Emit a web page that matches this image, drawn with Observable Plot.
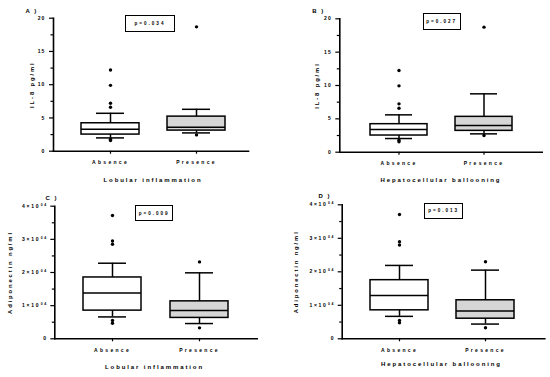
<!DOCTYPE html>
<html>
<head>
<meta charset="utf-8">
<script src="https://cdn.jsdelivr.net/npm/d3@7"></script>
<script src="https://cdn.jsdelivr.net/npm/@observablehq/plot@0.6"></script>
<style>
  html, body { margin: 0; padding: 0; background: #fff; }
  #wrap { position: relative; width: 550px; height: 377px; overflow: hidden; background: #fff;
          font-family: "Liberation Sans", Arial, sans-serif; font-weight: bold; }
  .panel { position: absolute; }
  .panel svg { overflow: visible; }
  .panel svg text { font-family: "Liberation Sans", Arial, sans-serif; font-weight: bold; }
  g[aria-label="y-axis tick label"] text { letter-spacing: 1.1px; }
  g[aria-label="x-axis tick label"] text { letter-spacing: 2.3px; }
  .pbox { position: absolute; box-sizing: border-box; border: 1.6px solid #000; background: #fff;
          display: flex; align-items: center; justify-content: center;
          font-size: 4.6px; letter-spacing: 2px; color: #000; }
</style>
</head>
<body>
<div id="wrap"></div>
<script>
// ---------- data ----------
const groups = ["Absence", "Presence"];
// box statistics per group: [lower whisker, Q1, median, Q3, upper whisker]
const il8LobularAbsence  = [2.0, 2.5, 3.3, 4.2, 5.7];
const il8LobularPresence = [2.75, 3.1, 3.6, 5.2, 6.3];
const il8LobularAbsenceOutliers  = [12.2, 9.9, 7.2, 6.6, 1.8, 1.6];
const il8LobularPresenceOutliers = [18.7, 2.45];

const il8BalloonAbsence  = [2.05, 2.5, 3.4, 4.2, 5.6];
const il8BalloonPresence = [2.75, 3.2, 4.0, 5.3, 8.75];
const il8BalloonAbsenceOutliers  = [12.25, 9.95, 7.25, 6.6, 1.8, 1.55];
const il8BalloonPresenceOutliers = [18.75, 2.5];

const adipoLobularAbsence  = [6600, 8500, 13800, 18500, 22800];
const adipoLobularPresence = [4600, 6300, 8500, 11300, 19900];
const adipoLobularAbsenceOutliers  = [37200, 29500, 28500, 5500, 4700];
const adipoLobularPresenceOutliers = [23200, 3300];

const adipoBalloonAbsence  = [6700, 8500, 12900, 17500, 21900];
const adipoBalloonPresence = [4400, 6000, 8300, 11500, 20500];
const adipoBalloonAbsenceOutliers  = [37100, 29000, 28000, 5500, 4800];
const adipoBalloonPresenceOutliers = [23000, 3300];

const il8Ticks = [0, 5, 10, 15, 20];
const il8MinorTicks = [2.5, 7.5, 12.5, 17.5];
const adipoTicks = [0, 10000, 20000, 30000, 40000];
const adipoMinorTicks = [5000, 15000, 25000, 35000];

const pValues = ["p=0.034", "p=0.027", "p=0.009", "p=0.013"];
const panelLetters = ["A )", "B )", "C )", "D )"];
const yTitles = ["IL-8 pg/ml", "IL-8 pg/ml", "Adiponectin ng/ml", "Adiponectin ng/ml"];
const xTitles = ["Lobular inflammation", "Hepatocellular ballooning", "Lobular inflammation", "Hepatocellular ballooning"];
const groupFills = ["#ffffff", "#d6d6d6"];
const adipoExponent = "04";

// ---------- helpers ----------
function rowsFrom(a, p) {
  return groups.map((g, i) => {
    const s = i === 0 ? a : p;
    return { group: g, low: s[0], q1: s[1], median: s[2], q3: s[3], high: s[4], fill: groupFills[i] };
  });
}
function outlierRows(a, p) {
  return [...a.map(v => ({ group: groups[0], value: v })), ...p.map(v => ({ group: groups[1], value: v }))];
}
const supFmt = d => d === 0 ? "0" : `${d / 10000}×10^${adipoExponent}`;

function panel(cfg) {
  const rows = rowsFrom(cfg.a, cfg.p);
  const outs = outlierRows(cfg.ao, cfg.po);
  const sw = 1.5;
  const chart = Plot.plot({
    width: cfg.width, height: cfg.height,
    marginLeft: cfg.ml, marginRight: cfg.mr, marginTop: cfg.mt, marginBottom: cfg.mb,
    style: { background: "transparent", fontFamily: "Liberation Sans, Arial, sans-serif" },
    x: { type: "band", domain: groups, paddingInner: cfg.pin, paddingOuter: cfg.pout, align: cfg.align, label: null },
    y: { domain: cfg.yDomain, label: null },
    marks: [
      Plot.axisY({ ticks: cfg.minor, tickSize: 2.5, tickFormat: () => "", strokeWidth: 1.2 }),
      Plot.axisY({ ticks: cfg.ticks, tickSize: 4, tickPadding: cfg.tickPad, tickFormat: cfg.fmt, fontSize: 5, strokeWidth: 1.2 }),
      Plot.axisX({ tickSize: 3, tickPadding: 6.5, fontSize: 5, strokeWidth: 1.2, label: null }),
      Plot.ruleX(rows, { x: "group", y1: "low", y2: "high", strokeWidth: sw }),
      Plot.barY(rows, { x: "group", y1: "q1", y2: "q3", fill: "fill", stroke: "#000", strokeWidth: sw }),
      Plot.tickY(rows, { x: "group", y: "median", strokeWidth: sw }),
      Plot.tickY(rows, { x: "group", y: "low", strokeWidth: sw, insetLeft: 15, insetRight: 15 }),
      Plot.tickY(rows, { x: "group", y: "high", strokeWidth: sw, insetLeft: 15, insetRight: 15 }),
      Plot.dot(outs, { x: "group", y: "value", r: 1.7, fill: "#000", stroke: "none" }),
      Plot.frame({ anchor: "left", strokeWidth: 1.6 }),
      Plot.frame({ anchor: "bottom", strokeWidth: 1.6 }),
      Plot.text([cfg.yTitle], { frameAnchor: "left", textAnchor: "middle", dx: cfg.yTitleDx, rotate: -90, fontSize: 5.8 }),
      Plot.text([cfg.xTitle], { frameAnchor: "bottom", textAnchor: "middle", dx: cfg.xTitleDx, dy: cfg.xTitleDy, fontSize: 6 }),
      Plot.text([cfg.letter], { frameAnchor: "top-left", textAnchor: "start", dx: cfg.letterDx, dy: cfg.letterDy, fontSize: 6 })
    ]
  });
  // letter spacing of titles (reference uses widely tracked bold text)
  chart.querySelectorAll("text").forEach(t => {
    const s = t.textContent;
    if (s === cfg.xTitle || s === cfg.yTitle) t.style.letterSpacing = "1.9px";
    else if (s === cfg.letter) t.style.letterSpacing = "1.5px";
  });
  // superscript exponent on tick labels
  chart.querySelectorAll('g[aria-label="y-axis tick label"] text').forEach(t => {
    const s = t.textContent;
    if (cfg.wideTicks) t.style.letterSpacing = "1.7px";
    if (s.includes("^")) {
      const [base, exp] = s.split("^");
      t.textContent = "";
      const b = document.createElementNS("http://www.w3.org/2000/svg", "tspan");
      b.textContent = base;
      const e = document.createElementNS("http://www.w3.org/2000/svg", "tspan");
      e.textContent = exp;
      e.setAttribute("font-size", "3.4");
      e.setAttribute("dy", "-2.2");
      e.setAttribute("dx", "0.5");
      t.appendChild(b); t.appendChild(e);
    }
  });
  const div = document.createElement("div");
  div.className = "panel";
  div.style.left = cfg.left + "px";
  div.style.top = cfg.top + "px";
  div.appendChild(chart);
  document.getElementById("wrap").appendChild(div);

  const pb = document.createElement("div");
  pb.className = "pbox";
  pb.textContent = cfg.pText;
  Object.assign(pb.style, {
    left: (cfg.left + cfg.pbox[0]) + "px", top: (cfg.top + cfg.pbox[1]) + "px",
    width: cfg.pbox[2] + "px", height: cfg.pbox[3] + "px"
  });
  document.getElementById("wrap").appendChild(pb);
}

panel({
  left: 0, top: 0, width: 275, height: 190, ml: 53, mr: 27, mt: 17.7, mb: 39.3,
  pin: 0.331, pout: 0.29, align: 0.54, tickPad: 4,
  a: il8LobularAbsence, p: il8LobularPresence, ao: il8LobularAbsenceOutliers, po: il8LobularPresenceOutliers,
  yDomain: [0, 20], ticks: il8Ticks, minor: il8MinorTicks, fmt: d => d,
  yTitle: yTitles[0], yTitleDx: -21.3, xTitle: xTitles[0], xTitleDx: 2, xTitleDy: 31,
  letter: panelLetters[0], letterDx: -28, letterDy: -9.7,
  pText: pValues[0], pbox: [125, 15, 50, 16.7]
});
panel({
  left: 275, top: 0, width: 275, height: 190, ml: 64.3, mr: 8.3, mt: 18.3, mb: 38.3,
  pin: 0.326, pout: 0.34, align: 0.51, tickPad: 4,
  a: il8BalloonAbsence, p: il8BalloonPresence, ao: il8BalloonAbsenceOutliers, po: il8BalloonPresenceOutliers,
  yDomain: [0, 20], ticks: il8Ticks, minor: il8MinorTicks, fmt: d => d,
  yTitle: yTitles[1], yTitleDx: -22.6, xTitle: xTitles[1], xTitleDx: 0, xTitleDy: 29.3,
  letter: panelLetters[1], letterDx: -27.6, letterDy: -10,
  pText: pValues[1], pbox: [147.7, 13.3, 38, 16.7]
});
panel({
  left: 0, top: 185, width: 275, height: 192, ml: 54.3, mr: 18.3, mt: 20.7, mb: 38.7,
  pin: 0.331, pout: 0.325, align: 0.5, tickPad: 3, wideTicks: true,
  a: adipoLobularAbsence, p: adipoLobularPresence, ao: adipoLobularAbsenceOutliers, po: adipoLobularPresenceOutliers,
  yDomain: [0, 40000], ticks: adipoTicks, minor: adipoMinorTicks, fmt: supFmt,
  yTitle: yTitles[2], yTitleDx: -44.3, xTitle: xTitles[2], xTitleDx: -1.5, xTitleDy: 30,
  letter: panelLetters[2], letterDx: -9.3, letterDy: -10,
  pText: pValues[2], pbox: [135, 20, 38.3, 16]
});
panel({
  left: 275, top: 185, width: 275, height: 192, ml: 66.7, mr: 5.7, mt: 19.3, mb: 38.7,
  pin: 0.325, pout: 0.331, align: 0.49, tickPad: 3, wideTicks: true,
  a: adipoBalloonAbsence, p: adipoBalloonPresence, ao: adipoBalloonAbsenceOutliers, po: adipoBalloonPresenceOutliers,
  yDomain: [0, 40000], ticks: adipoTicks, minor: adipoMinorTicks, fmt: supFmt,
  yTitle: yTitles[3], yTitleDx: -46, xTitle: xTitles[3], xTitleDx: -2, xTitleDy: 26.7,
  letter: panelLetters[3], letterDx: -23.7, letterDy: -11,
  pText: pValues[3], pbox: [149, 17.7, 39.3, 16.6]
});
</script>
</body>
</html>
